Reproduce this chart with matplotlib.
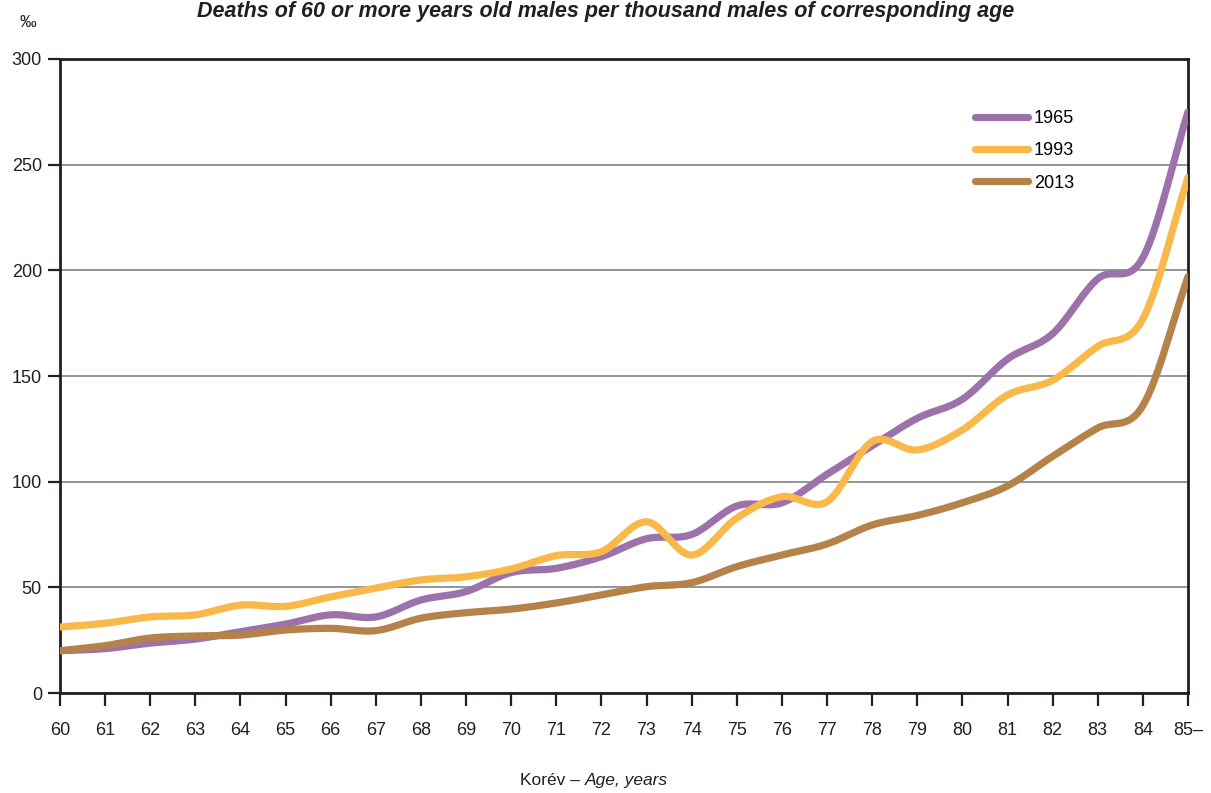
import numpy as np
import matplotlib.pyplot as plt

ages = list(range(60, 86))
age_labels = [str(a) for a in range(60, 85)] + ['85–']

deaths_1965 = [20, 21, 23.6, 25.5, 29, 32.6, 37, 36, 44, 48, 57, 59, 64.5, 73, 75,
               88.5, 90, 103.5, 117, 130, 139, 158, 170, 196, 206, 275]
deaths_1993 = [31.2, 33, 36, 37, 41.6, 41, 45.5, 49.6, 53.5, 55, 58.7, 65, 66.9, 81, 65.3,
               82.8, 92.9, 90.5, 119, 115, 124.5, 141, 148, 164, 177, 244]
deaths_2013 = [20, 22.4, 26, 27, 27.4, 29.8, 30.6, 29.5, 35.4, 38, 39.7, 42.6, 46.4, 50.3, 52.2,
               59.8, 65.3, 70.5, 79.5, 84, 90, 98, 112, 125.4, 136, 197]

series = [('1965', deaths_1965, '#9b72aa'),
          ('1993', deaths_1993, '#f9b94a'),
          ('2013', deaths_2013, '#b5824a')]


def smooth(x, y, n=20):
    # Catmull-Rom curve through the points, like a spreadsheet "smoothed line"
    x = np.asarray(x, float)
    y = np.asarray(y, float)
    px = np.concatenate([[2 * x[0] - x[1]], x, [2 * x[-1] - x[-2]]])
    py = np.concatenate([[2 * y[0] - y[1]], y, [2 * y[-1] - y[-2]]])
    xs, ys = [], []
    t = np.linspace(0, 1, n, endpoint=False)
    for i in range(1, len(px) - 2):
        for p, out in ((px, xs), (py, ys)):
            p0, p1, p2, p3 = p[i - 1], p[i], p[i + 1], p[i + 2]
            out.append(0.5 * (2 * p1 + (-p0 + p2) * t
                              + (2 * p0 - 5 * p1 + 4 * p2 - p3) * t ** 2
                              + (-p0 + 3 * p1 - 3 * p2 + p3) * t ** 3))
    xs.append([x[-1]])
    ys.append([y[-1]])
    return np.concatenate(xs), np.concatenate(ys)


plt.rcParams['font.family'] = ['Liberation Sans Narrow', 'Liberation Sans', 'DejaVu Sans']

fig = plt.figure(figsize=(12.11, 7.93), dpi=100)
ax = fig.add_axes([0.0495, 0.1261, 0.9315, 0.7995])

for name, vals, col in series:
    sx, sy = smooth(ages, vals)
    ax.plot(sx, sy, color=col, lw=5.2, solid_capstyle='round', label=name, zorder=3)

ax.set_xlim(60, 85)
ax.set_ylim(0, 300)
ax.set_yticks(range(0, 301, 50))
ax.set_xticks(ages)
ax.set_xticklabels(age_labels)
ax.yaxis.grid(True, color='#8c8c8c', lw=1.3)
ax.set_axisbelow(True)

for s in ax.spines.values():
    s.set_color('#231f20')
    s.set_linewidth(2)
ax.tick_params(axis='both', color='#231f20', width=1.6, length=9, labelsize=13,
               labelcolor='#231f20')
ax.tick_params(axis='x', pad=12)
ax.tick_params(axis='y', pad=4)

leg = ax.legend(loc='upper left', bbox_to_anchor=(0.797, 0.945), frameon=False,
                fontsize=13, handlelength=2.9, handletextpad=0.35, labelspacing=0.85)

fig.text(0.0165, 0.972, '‰', fontsize=12, color='#231f20', va='center')
fig.text(0.5, 0.999, 'Deaths of 60 or more years old males per thousand males of corresponding age',
         fontsize=15.5, fontweight='bold', fontstyle='italic', ha='center', va='top',
         color='#231f20')
fig.text(0.483, 0.006, 'Korév – ', fontsize=12.5, ha='right', va='bottom', color='#231f20')
fig.text(0.483, 0.006, 'Age, years', fontsize=12.5, style='italic', ha='left', va='bottom',
         color='#231f20')

fig.savefig('out.png', dpi=100)
